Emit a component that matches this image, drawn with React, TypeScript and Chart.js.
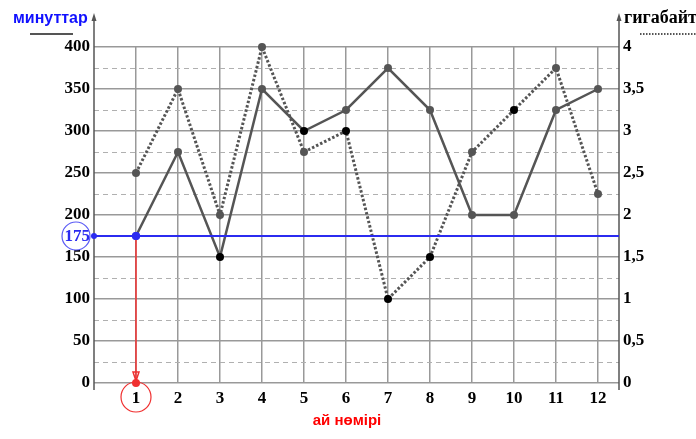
import React, { useEffect, useRef } from 'react';
import { Chart, registerables } from 'chart.js';

Chart.register(...registerables);

const months = [1, 2, 3, 4, 5, 6, 7, 8, 9, 10, 11, 12];
const minutes = [175, 275, 150, 350, 300, 325, 375, 325, 200, 200, 325, 350];
const gigabytes = [2.5, 3.5, 2, 4, 2.75, 3, 1, 1.5, 2.75, 3.25, 3.75, 2.25];
const highlightMonth = 1;
const highlightMinutes = 175;

const leftTitle = 'минуттар';
const rightTitle = 'гигабайт';
const xTitle = 'ай нөмірі';

const GRAY = '#555555';
const BLACK = '#000000';
const BLUE = '#2b2bf0';
const RED = '#f03030';

const solidPointColors = [BLUE, GRAY, BLACK, GRAY, BLACK, GRAY, GRAY, GRAY, GRAY, GRAY, GRAY, GRAY];
const dottedPointColors = [GRAY, GRAY, GRAY, GRAY, GRAY, BLACK, BLACK, BLACK, GRAY, BLACK, GRAY, GRAY];

const SERIF = "'Liberation Serif', 'Times New Roman', serif";
const SANS = "'Liberation Sans', Arial, sans-serif";

const overlay = {
  id: 'overlay',
  afterDraw(chart: any) {
    const { ctx, chartArea, scales } = chart;
    const xs = scales.x;
    const ys = scales.y;
    ctx.save();

    // axis lines with arrows
    ctx.strokeStyle = GRAY;
    ctx.fillStyle = GRAY;
    ctx.lineWidth = 1.5;
    [chartArea.left, chartArea.right].forEach((px: number) => {
      ctx.beginPath();
      ctx.moveTo(px, 18);
      ctx.lineTo(px, chartArea.bottom + 7);
      ctx.stroke();
      ctx.beginPath();
      ctx.moveTo(px, 13);
      ctx.lineTo(px - 2.5, 21);
      ctx.lineTo(px + 2.5, 21);
      ctx.closePath();
      ctx.fill();
    });

    // highlight lines
    const hx = xs.getPixelForValue(highlightMonth);
    const hy = ys.getPixelForValue(highlightMinutes);
    const y0 = ys.getPixelForValue(0);

    ctx.strokeStyle = BLUE;
    ctx.lineWidth = 2;
    ctx.beginPath();
    ctx.moveTo(chartArea.left, hy);
    ctx.lineTo(chartArea.right, hy);
    ctx.stroke();

    ctx.strokeStyle = RED;
    ctx.lineWidth = 1.5;
    ctx.beginPath();
    ctx.moveTo(hx, hy);
    ctx.lineTo(hx, y0 - 2);
    ctx.stroke();
    ctx.beginPath();
    ctx.moveTo(hx - 3, y0 - 11);
    ctx.lineTo(hx, y0 - 2);
    ctx.lineTo(hx + 3, y0 - 11);
    ctx.closePath();
    ctx.stroke();

    // dots
    ctx.fillStyle = BLUE;
    ctx.beginPath();
    ctx.arc(hx, hy, 4, 0, Math.PI * 2);
    ctx.fill();
    ctx.beginPath();
    ctx.arc(chartArea.left, hy, 3, 0, Math.PI * 2);
    ctx.fill();
    ctx.fillStyle = RED;
    ctx.beginPath();
    ctx.arc(hx, y0, 4, 0, Math.PI * 2);
    ctx.fill();

    // blue label with circle
    ctx.fillStyle = '#ffffff';
    ctx.beginPath();
    ctx.arc(76, hy, 14, 0, Math.PI * 2);
    ctx.fill();
    ctx.strokeStyle = '#5a5af5';
    ctx.lineWidth = 1.2;
    ctx.stroke();
    ctx.fillStyle = BLUE;
    ctx.font = `bold 17px ${SERIF}`;
    ctx.textAlign = 'right';
    ctx.textBaseline = 'middle';
    ctx.fillText(String(highlightMinutes), 90, hy + 1);

    // red circle around month label
    ctx.strokeStyle = RED;
    ctx.lineWidth = 1.2;
    ctx.beginPath();
    ctx.arc(hx, 397, 15, 0, Math.PI * 2);
    ctx.stroke();

    // titles
    ctx.textAlign = 'left';
    ctx.textBaseline = 'middle';
    ctx.fillStyle = '#1010ff';
    ctx.font = `bold 16px ${SANS}`;
    ctx.fillText(leftTitle, 13, 19);
    ctx.strokeStyle = GRAY;
    ctx.lineWidth = 2;
    ctx.setLineDash([]);
    ctx.beginPath();
    ctx.moveTo(30, 34);
    ctx.lineTo(73, 34);
    ctx.stroke();

    ctx.fillStyle = BLACK;
    ctx.font = `bold 18px ${SERIF}`;
    ctx.fillText(rightTitle, 624, 18);
    ctx.strokeStyle = GRAY;
    ctx.lineWidth = 2;
    ctx.setLineDash([1.5, 1.5]);
    ctx.beginPath();
    ctx.moveTo(640, 34);
    ctx.lineTo(696, 34);
    ctx.stroke();
    ctx.setLineDash([]);

    ctx.fillStyle = '#ff0000';
    ctx.font = `bold 15px ${SANS}`;
    ctx.textAlign = 'center';
    ctx.fillText(xTitle, 347, 421);

    ctx.restore();
  },
};

export default function App() {
  const ref = useRef<HTMLCanvasElement>(null);

  useEffect(() => {
    if (!ref.current) return;
    const chart = new Chart(ref.current, {
      type: 'line',
      data: {
        datasets: [
          {
            label: leftTitle,
            data: months.map((m, i) => ({ x: m, y: minutes[i] })),
            yAxisID: 'y',
            borderColor: GRAY,
            borderWidth: 2.5,
            pointRadius: 4,
            pointBorderWidth: 0,
            pointBackgroundColor: solidPointColors,
            clip: false,
          },
          {
            label: rightTitle,
            data: months.map((m, i) => ({ x: m, y: gigabytes[i] })),
            yAxisID: 'y2',
            borderColor: GRAY,
            borderWidth: 3,
            borderDash: [2.5, 2],
            pointRadius: 4,
            pointBorderWidth: 0,
            pointBackgroundColor: dottedPointColors,
            clip: false,
          },
        ],
      },
      options: {
        animation: false,
        responsive: true,
        maintainAspectRatio: false,
        layout: { padding: { top: 47, left: 0, right: 0, bottom: 0 } },
        plugins: { legend: { display: false }, tooltip: { enabled: false } },
        scales: {
          x: {
            type: 'linear',
            min: 0,
            max: 12.5,
            afterBuildTicks: (s: any) => {
              s.ticks = months.map((m) => ({ value: m }));
            },
            afterFit: (s: any) => {
              s.height = 56;
            },
            ticks: {
              color: BLACK,
              padding: 5,
              autoSkip: false,
              font: { family: SERIF, size: 17, weight: 'bold' },
              callback: (v: any) => String(v),
            },
            grid: { color: '#999999', lineWidth: 1.5, drawTicks: false },
            border: { display: false },
          },
          y: {
            position: 'left',
            min: 0,
            max: 400,
            afterFit: (s: any) => {
              s.width = 94;
            },
            ticks: {
              stepSize: 25,
              maxTicksLimit: 40,
              autoSkip: false,
              color: BLACK,
              padding: 4,
              font: { family: SERIF, size: 17, weight: 'bold' },
              callback: (v: any) => (Number(v) % 50 === 0 ? String(v) : ''),
            },
            grid: {
              drawTicks: false,
              color: (c: any) => (c.tick && c.tick.value % 50 !== 0 ? '#b0b0b0' : '#999999'),
              lineWidth: (c: any) => (c.tick && c.tick.value % 50 !== 0 ? 1 : 1.5),
            },
            border: {
              display: false,
              dash: (c: any) => (c.tick && c.tick.value % 50 !== 0 ? [5, 4] : []),
            },
          },
          y2: {
            position: 'right',
            min: 0,
            max: 4,
            afterFit: (s: any) => {
              s.width = 77;
            },
            ticks: {
              stepSize: 0.5,
              color: BLACK,
              padding: 4,
              font: { family: SERIF, size: 17, weight: 'bold' },
              callback: (v: any) => String(v).replace('.', ','),
            },
            grid: { display: false, drawTicks: false },
            border: { display: false },
          },
        },
      },
      plugins: [overlay],
    } as any);
    return () => chart.destroy();
  }, []);

  return (
    <div style={{ position: 'fixed', left: 0, top: 0, width: 696, height: 439, background: '#fff' }}>
      <canvas ref={ref} />
    </div>
  );
}
